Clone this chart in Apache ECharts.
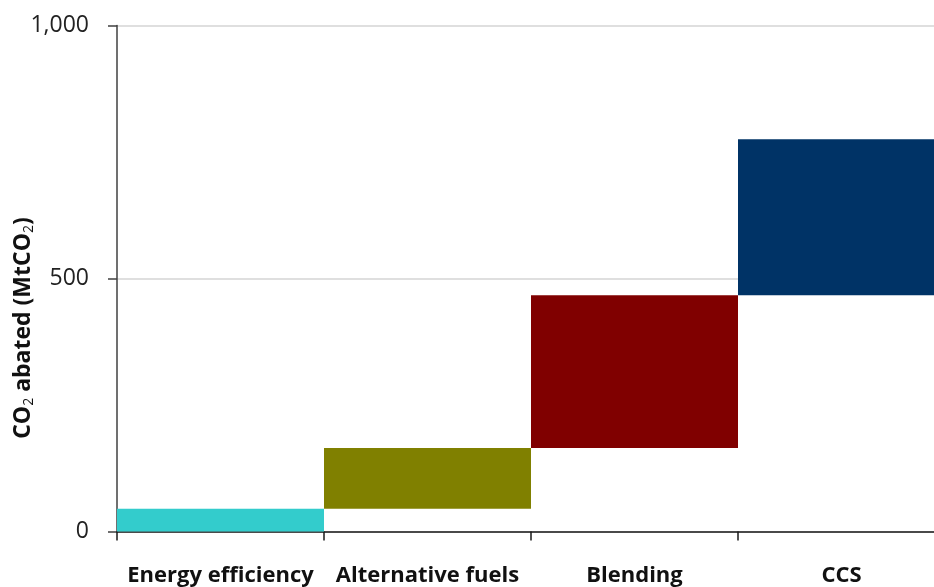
<!DOCTYPE html>
<html>
<head>
<meta charset="utf-8">
<script src="https://cdn.jsdelivr.net/npm/echarts@6/dist/echarts.min.js"></script>
<style>
  html, body { margin: 0; padding: 0; background: #ffffff; width: 934px; height: 587px; overflow: hidden; }
  /* the last category runs a little past the right edge of the page */
  #chart { width: 945px; height: 587px; }
</style>
</head>
<body>
<div id="chart"></div>
<script>
// Abatement levers, in the order they are stacked
const categories = ['Energy efficiency', 'Alternative fuels', 'Blending', 'CCS'];
// CO2 abated by each lever (MtCO2)
const abated = [45, 120, 302, 308];
const leverColors = ['#33CCCC', '#808000', '#800000', '#003366'];
const yTicks = { min: 0, max: 1000, interval: 500 };

// Each step starts where the previous levers leave off
const offsets = [];
let running = 0;
abated.forEach(v => { offsets.push(running); running += v; });

const FONT = '"Open Sans", "Noto Sans", sans-serif';
const chart = echarts.init(document.getElementById('chart'), null, { renderer: 'canvas' });

chart.setOption({
  backgroundColor: '#ffffff',
  animation: false,
  grid: { left: 117, top: 25.5, right: 0, bottom: 55.5, containLabel: false },
  xAxis: {
    type: 'category',
    data: categories,
    boundaryGap: true,
    axisLine: { lineStyle: { color: '#1a1a1a', width: 1.5 } },
    axisTick: { show: true, length: 9, lineStyle: { color: '#1a1a1a', width: 1.5 } },
    axisLabel: {
      interval: 0,
      margin: 33,
      color: '#111111',
      fontFamily: FONT,
      fontWeight: 'bold',
      fontSize: 22
    },
    splitLine: { show: false }
  },
  yAxis: {
    type: 'value',
    min: yTicks.min,
    max: yTicks.max,
    interval: yTicks.interval,
    axisLine: { show: true, lineStyle: { color: '#404040', width: 1.5 } },
    axisTick: { show: true, length: 9, lineStyle: { color: '#404040', width: 1.5 } },
    axisLabel: {
      margin: 28,
      color: '#222222',
      fontFamily: FONT,
      fontSize: 23,
      formatter: v => v.toLocaleString('en-US')
    },
    splitLine: { show: true, lineStyle: { color: '#d4d4d4', width: 1.5 } }
  },
  graphic: [{
    type: 'text',
    x: 23,
    y: 328,
    rotation: Math.PI / 2,
    style: {
      text: 'CO{sub|2} abated (MtCO{sub|2})',
      fontFamily: FONT,
      fontWeight: 'bold',
      fontSize: 23,
      fill: '#111111',
      align: 'center',
      verticalAlign: 'middle',
      rich: {
        sub: { fontFamily: FONT, fontSize: 14, fill: '#111111', padding: [12, 0, 0, 0] }
      }
    }
  }],
  series: [
    {
      name: 'base',
      type: 'bar',
      stack: 'wf',
      data: offsets,
      barWidth: '100%',
      barCategoryGap: '0%',
      itemStyle: { color: 'transparent' },
      silent: true
    },
    {
      name: 'abated',
      type: 'bar',
      stack: 'wf',
      barWidth: '100%',
      barCategoryGap: '0%',
      data: abated.map((v, i) => ({ value: v, itemStyle: { color: leverColors[i] } }))
    }
  ]
});
</script>
</body>
</html>
